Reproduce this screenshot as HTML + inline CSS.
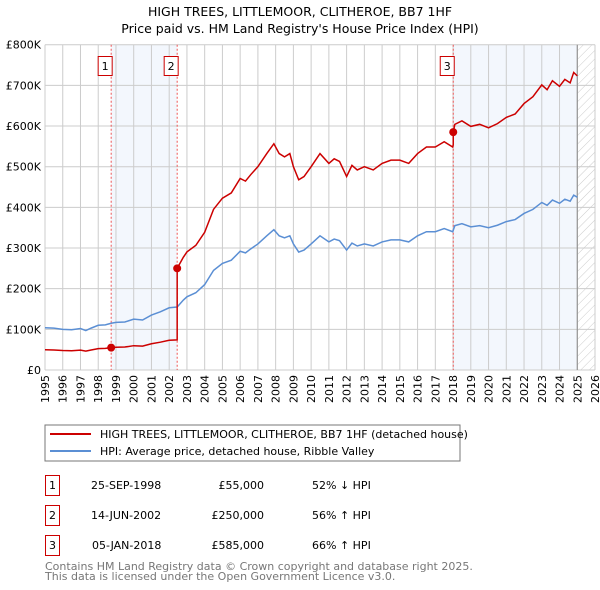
<!DOCTYPE html>
<html><head><meta charset="utf-8"><style>
body{margin:0;background:#fff}
svg{display:block;font-family:"DejaVu Sans","Liberation Sans",sans-serif}
</style></head><body>
<svg id="c" width="600" height="590" viewBox="0 0 600 590">
<text x="300" y="16" text-anchor="middle" font-size="12.5">HIGH TREES, LITTLEMOOR, CLITHEROE, BB7 1HF</text>
<text x="300" y="33" text-anchor="middle" font-size="12.5">Price paid vs. HM Land Registry's House Price Index (HPI)</text>
<defs><pattern id="hatch" width="6" height="6" patternUnits="userSpaceOnUse" patternTransform="rotate(45)"><line x1="0" y1="0" x2="0" y2="6" stroke="#ccc" stroke-width="1"/></pattern></defs>
<g id="plot"></g>
<rect x="45" y="425" width="415" height="36" fill="#fff" stroke="#777"/>
<line x1="50" y1="434" x2="91" y2="434" stroke="#cc0000" stroke-width="2"/>
<text x="100" y="438" font-size="11">HIGH TREES, LITTLEMOOR, CLITHEROE, BB7 1HF (detached house)</text>
<line x1="50" y1="451" x2="91" y2="451" stroke="#5b8fd4" stroke-width="2"/>
<text x="100" y="455" font-size="11">HPI: Average price, detached house, Ribble Valley</text>
<g font-size="11">
<rect x="45.5" y="475.5" width="14" height="20" fill="none" stroke="#c00"/><text x="52.5" y="489" text-anchor="middle">1</text>
<text x="91" y="489">25-SEP-1998</text><text x="264" y="489" text-anchor="end">£55,000</text><text x="312" y="489">52% ↓ HPI</text>
<rect x="45.5" y="505.5" width="14" height="20" fill="none" stroke="#c00"/><text x="52.5" y="519" text-anchor="middle">2</text>
<text x="91" y="519">14-JUN-2002</text><text x="264" y="519" text-anchor="end">£250,000</text><text x="312" y="519">56% ↑ HPI</text>
<rect x="45.5" y="535.5" width="14" height="20" fill="none" stroke="#c00"/><text x="52.5" y="549" text-anchor="middle">3</text>
<text x="92" y="549">05-JAN-2018</text><text x="264" y="549" text-anchor="end">£585,000</text><text x="312" y="549">66% ↑ HPI</text>
</g>
<text x="45" y="570" font-size="11" fill="#777">Contains HM Land Registry data © Crown copyright and database right 2025.</text>
<text x="45" y="580" font-size="11" fill="#777">This data is licensed under the Open Government Licence v3.0.</text>
</svg>
<script>
const hpiYears=[1995,1995.5,1996,1996.5,1997,1997.3,1997.6,1998,1998.4,1998.73,1999,1999.5,2000,2000.5,2001,2001.5,2002,2002.45,2002.8,2003,2003.5,2004,2004.5,2005,2005.5,2006,2006.3,2006.6,2007,2007.5,2007.9,2008.2,2008.5,2008.8,2009,2009.3,2009.6,2010,2010.5,2011,2011.3,2011.6,2012,2012.3,2012.6,2013,2013.5,2014,2014.5,2015,2015.5,2016,2016.5,2017,2017.5,2017.98,2018.1,2018.5,2019,2019.5,2020,2020.5,2021,2021.5,2022,2022.5,2023,2023.3,2023.6,2024,2024.3,2024.6,2024.8,2025];
const hpiValues=[104,103,100,99,102,97,103,110,111,115,117,118,125,123,135,143,153,155,172,180,190,210,245,262,270,292,288,298,310,330,345,330,325,330,310,290,295,310,330,315,322,318,295,312,305,310,305,315,320,320,315,330,340,340,348,340,355,360,352,355,350,356,365,370,385,395,412,405,418,410,420,415,430,425];
const saleYears=[1998.73,2002.45,2018.01];
const salePrices=[55,250,585];
const saleLabels=['1','2','3'];
const yTicks=[0,100,200,300,400,500,600,700,800];
const yTickLabels=['£0','£100K','£200K','£300K','£400K','£500K','£600K','£700K','£800K'];
const xTicks=[1995,1996,1997,1998,1999,2000,2001,2002,2003,2004,2005,2006,2007,2008,2009,2010,2011,2012,2013,2014,2015,2016,2017,2018,2019,2020,2021,2022,2023,2024,2025,2026];
const dataEnd=2025;

const L=45,R=595,T=44.7,B=370;
const xS=v=>L+(v-1995)/(2026-1995)*(R-L);
const yS=v=>B-v/800*(B-T);
const NS='http://www.w3.org/2000/svg';
const g=document.getElementById('plot');
function mk(t,a,p){const e=document.createElementNS(NS,t);for(const k in a)e.setAttribute(k,a[k]);(p||g).appendChild(e);return e;}
function hpiAt(x){for(let i=1;i<hpiYears.length;i++){if(x<=hpiYears[i]){const a=hpiYears[i-1],b=hpiYears[i];return hpiValues[i-1]+(hpiValues[i]-hpiValues[i-1])*(x-a)/(b-a);}}return hpiValues[hpiValues.length-1];}

let e;
e=mk('rect',{x:xS(saleYears[0]),y:T,width:xS(saleYears[1])-xS(saleYears[0]),height:B-T,fill:'#eef3fc',opacity:0.7});


e=mk('rect',{x:xS(saleYears[2]),y:T,width:xS(dataEnd)-xS(saleYears[2]),height:B-T,fill:'#eef3fc',opacity:0.7});


e=mk('rect',{x:xS(dataEnd),y:T,width:R-xS(dataEnd),height:B-T,fill:'url(#hatch)'});



xTicks.forEach(v=>{
 e=mk('line',{x1:xS(v),x2:xS(v),y1:T,y2:B,stroke:'#ccc','stroke-width':1});
 
 
 e=mk('text',{x:0,y:0,transform:`translate(${xS(v)+4},375) rotate(-90)`,'text-anchor':'end','font-size':11});
 e.textContent=v;
 
 
});
yTicks.forEach((v,i)=>{
 e=mk('line',{x1:L,x2:R,y1:yS(v),y2:yS(v),stroke:'#ccc','stroke-width':1});
 
 
 e=mk('text',{x:L-4,y:yS(v)+4,'text-anchor':'end','font-size':11});
 e.textContent=yTickLabels[i];
 
 
});
e=mk('line',{x1:xS(dataEnd),x2:xS(dataEnd),y1:T,y2:B,stroke:'#888','stroke-width':1});



saleYears.forEach((s,i)=>{
 e=mk('line',{x1:xS(s),x2:xS(s),y1:T,y2:B,stroke:'#e55','stroke-width':1,'stroke-dasharray':'2,2'});
 
 
 e=mk('rect',{x:xS(s)-13,y:56.5,width:14,height:19,fill:'#fff',stroke:'#c00'});
 
 
 e=mk('text',{x:xS(s)-6,y:70,'text-anchor':'middle','font-size':11});
 e.textContent=saleLabels[i];
 
 
});

// HPI line
e=mk('polyline',{points:hpiYears.map((x,i)=>xS(x)+','+yS(hpiValues[i])).join(' '),fill:'none',stroke:'#5b8fd4','stroke-width':1.5});



// Property line: HPI-indexed from each sale
const pts=[];
hpiYears.forEach((x,i)=>{
 let k=0;for(let j=0;j<saleYears.length;j++){if(x>=saleYears[j])k=j;}
 // insert sale jumps
 pts.push([x,hpiValues[i]*salePrices[k]/hpiAt(saleYears[k])]);
});
saleYears.forEach((s,j)=>{
 if(j>0){const prev=hpiAt(s)*salePrices[j-1]/hpiAt(saleYears[j-1]);pts.push([s-0.0001,prev]);}
 pts.push([s,salePrices[j]]);
});
pts.sort((a,b)=>a[0]-b[0]);
e=mk('polyline',{points:pts.map(p=>xS(p[0])+','+yS(p[1])).join(' '),fill:'none',stroke:'#cc0000','stroke-width':1.5});


saleYears.forEach((s,j)=>{
 e=mk('circle',{cx:xS(s),cy:yS(salePrices[j]),r:4,fill:'#cc0000'});
 
 
});
</script>
</body></html>
